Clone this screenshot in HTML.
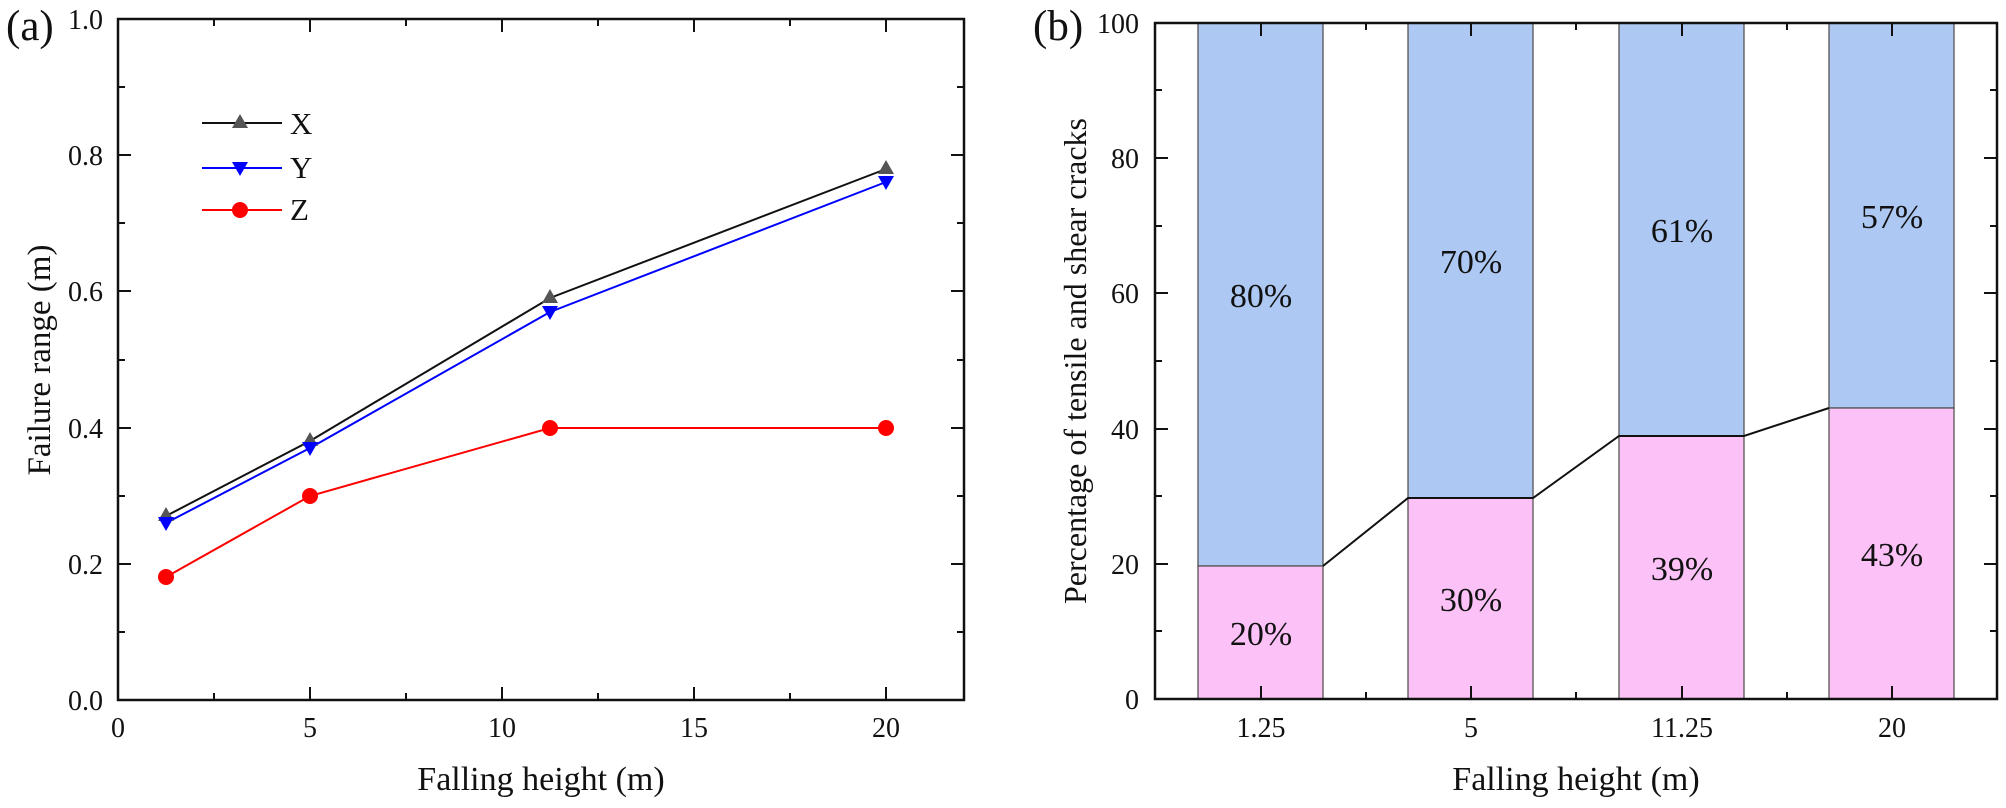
<!DOCTYPE html>
<html><head><meta charset="utf-8"><style>html,body{margin:0;padding:0;background:#fff}svg{display:block}text{font-family:"Liberation Serif",serif;fill:#111}</style></head><body>
<svg width="2006" height="808" viewBox="0 0 2006 808" xmlns="http://www.w3.org/2000/svg">
<!-- Panel a -->
<text x="6" y="40" font-size="43">(a)</text>
<g stroke="#111" stroke-width="2.5" fill="none">
<rect x="118" y="19" width="846" height="681"/>
</g>
<g stroke="#111" stroke-width="2">
<line x1="118" y1="700" x2="131" y2="700"/><line x1="118" y1="564" x2="131" y2="564"/><line x1="118" y1="428" x2="131" y2="428"/><line x1="118" y1="291" x2="131" y2="291"/><line x1="118" y1="155" x2="131" y2="155"/><line x1="118" y1="19" x2="131" y2="19"/>
<line x1="118" y1="632" x2="125" y2="632"/><line x1="118" y1="496" x2="125" y2="496"/><line x1="118" y1="360" x2="125" y2="360"/><line x1="118" y1="223" x2="125" y2="223"/><line x1="118" y1="87" x2="125" y2="87"/>
<line x1="964" y1="700" x2="951" y2="700"/><line x1="964" y1="564" x2="951" y2="564"/><line x1="964" y1="428" x2="951" y2="428"/><line x1="964" y1="291" x2="951" y2="291"/><line x1="964" y1="155" x2="951" y2="155"/>
<line x1="964" y1="632" x2="957" y2="632"/><line x1="964" y1="496" x2="957" y2="496"/><line x1="964" y1="360" x2="957" y2="360"/><line x1="964" y1="223" x2="957" y2="223"/><line x1="964" y1="87" x2="957" y2="87"/>
<line x1="310" y1="700" x2="310" y2="687"/><line x1="502" y1="700" x2="502" y2="687"/><line x1="694" y1="700" x2="694" y2="687"/><line x1="886" y1="700" x2="886" y2="687"/>
<line x1="214" y1="700" x2="214" y2="693"/><line x1="406" y1="700" x2="406" y2="693"/><line x1="598" y1="700" x2="598" y2="693"/><line x1="790" y1="700" x2="790" y2="693"/>
<line x1="310" y1="19" x2="310" y2="32"/><line x1="502" y1="19" x2="502" y2="32"/><line x1="694" y1="19" x2="694" y2="32"/><line x1="886" y1="19" x2="886" y2="32"/>
<line x1="214" y1="19" x2="214" y2="26"/><line x1="406" y1="19" x2="406" y2="26"/><line x1="598" y1="19" x2="598" y2="26"/><line x1="790" y1="19" x2="790" y2="26"/>
</g>
<g font-size="28" text-anchor="end">
<text x="103" y="710">0.0</text><text x="103" y="574">0.2</text><text x="103" y="438">0.4</text><text x="103" y="301">0.6</text><text x="103" y="165">0.8</text><text x="103" y="29">1.0</text>
</g>
<g font-size="28" text-anchor="middle">
<text x="118" y="737">0</text><text x="310" y="737">5</text><text x="502" y="737">10</text><text x="694" y="737">15</text><text x="886" y="737">20</text>
</g>
<text x="541" y="790" font-size="34" text-anchor="middle">Falling height (m)</text>
<text transform="translate(50,360) rotate(-90)" font-size="33" text-anchor="middle">Failure range (m)</text>
<polyline points="166,516 310,441 550,298 886,169" fill="none" stroke="#111" stroke-width="2"/>
<polyline points="166,523 310,448 550,312 886,182" fill="none" stroke="#00f" stroke-width="2"/>
<polyline points="166,577 310,496 550,428 886,428" fill="none" stroke="#f00" stroke-width="2"/>
<g fill="#555"><polygon points="166,507 174,521 158,521"/><polygon points="310,432 318,446 302,446"/><polygon points="550,289 558,303 542,303"/><polygon points="886,160 894,174 878,174"/></g>
<g fill="#00f"><polygon points="158,517 174,517 166,531"/><polygon points="302,442 318,442 310,456"/><polygon points="542,306 558,306 550,320"/><polygon points="878,176 894,176 886,190"/></g>
<g fill="#f00"><circle cx="166" cy="577" r="8"/><circle cx="310" cy="496" r="8"/><circle cx="550" cy="428" r="8"/><circle cx="886" cy="428" r="8"/></g>
<line x1="202" y1="123" x2="282" y2="123" stroke="#111" stroke-width="2"/><polygon points="240,114 248,128 232,128" fill="#555"/>
<line x1="202" y1="168" x2="282" y2="168" stroke="#00f" stroke-width="2"/><polygon points="232,162 248,162 240,176" fill="#00f"/>
<line x1="202" y1="210" x2="282" y2="210" stroke="#f00" stroke-width="2"/><circle cx="240" cy="210" r="8" fill="#f00"/>
<g font-size="31"><text x="290" y="134">X</text><text x="290" y="178">Y</text><text x="290" y="220">Z</text></g>

<!-- Panel b -->
<text x="1033" y="40" font-size="43">(b)</text>
<g stroke="#555" stroke-width="1.3">
<rect x="1198" y="23" width="125" height="543" fill="#adc8f2"/><rect x="1198" y="566" width="125" height="133" fill="#fcc2f7"/>
<rect x="1408" y="23" width="125" height="475" fill="#adc8f2"/><rect x="1408" y="498" width="125" height="201" fill="#fcc2f7"/>
<rect x="1619" y="23" width="125" height="413" fill="#adc8f2"/><rect x="1619" y="436" width="125" height="263" fill="#fcc2f7"/>
<rect x="1829" y="23" width="125" height="385" fill="#adc8f2"/><rect x="1829" y="408" width="125" height="291" fill="#fcc2f7"/>
</g>
<polyline points="1323,566 1408,498 1533,498 1619,436 1744,436 1829,408" fill="none" stroke="#111" stroke-width="2"/>
<rect x="1155" y="23" width="842" height="676" fill="none" stroke="#111" stroke-width="2.5"/>
<g stroke="#111" stroke-width="2">
<line x1="1155" y1="699" x2="1168" y2="699"/><line x1="1155" y1="564" x2="1168" y2="564"/><line x1="1155" y1="429" x2="1168" y2="429"/><line x1="1155" y1="293" x2="1168" y2="293"/><line x1="1155" y1="158" x2="1168" y2="158"/><line x1="1155" y1="23" x2="1168" y2="23"/>
<line x1="1155" y1="631" x2="1162" y2="631"/><line x1="1155" y1="496" x2="1162" y2="496"/><line x1="1155" y1="361" x2="1162" y2="361"/><line x1="1155" y1="226" x2="1162" y2="226"/><line x1="1155" y1="90" x2="1162" y2="90"/>
<line x1="1997" y1="564" x2="1984" y2="564"/><line x1="1997" y1="429" x2="1984" y2="429"/><line x1="1997" y1="293" x2="1984" y2="293"/><line x1="1997" y1="158" x2="1984" y2="158"/>
<line x1="1997" y1="631" x2="1990" y2="631"/><line x1="1997" y1="496" x2="1990" y2="496"/><line x1="1997" y1="361" x2="1990" y2="361"/><line x1="1997" y1="226" x2="1990" y2="226"/><line x1="1997" y1="90" x2="1990" y2="90"/>
<line x1="1261" y1="699" x2="1261" y2="686"/><line x1="1471" y1="699" x2="1471" y2="686"/><line x1="1682" y1="699" x2="1682" y2="686"/><line x1="1892" y1="699" x2="1892" y2="686"/>
<line x1="1366" y1="699" x2="1366" y2="692"/><line x1="1576" y1="699" x2="1576" y2="692"/><line x1="1787" y1="699" x2="1787" y2="692"/>
<line x1="1261" y1="23" x2="1261" y2="36"/><line x1="1471" y1="23" x2="1471" y2="36"/><line x1="1682" y1="23" x2="1682" y2="36"/><line x1="1892" y1="23" x2="1892" y2="36"/>
<line x1="1366" y1="23" x2="1366" y2="30"/><line x1="1576" y1="23" x2="1576" y2="30"/><line x1="1787" y1="23" x2="1787" y2="30"/>
</g>
<g font-size="28" text-anchor="end">
<text x="1139" y="709">0</text><text x="1139" y="574">20</text><text x="1139" y="439">40</text><text x="1139" y="303">60</text><text x="1139" y="168">80</text><text x="1139" y="33">100</text>
</g>
<g font-size="28" text-anchor="middle">
<text x="1261" y="737">1.25</text><text x="1471" y="737">5</text><text x="1682" y="737">11.25</text><text x="1892" y="737">20</text>
</g>
<text x="1576" y="790" font-size="34" text-anchor="middle">Falling height (m)</text>
<text transform="translate(1086,361) rotate(-90)" font-size="32" text-anchor="middle">Percentage of tensile and shear cracks</text>
<g font-size="34" text-anchor="middle">
<text x="1261" y="307">80%</text><text x="1261" y="645">20%</text>
<text x="1471" y="273">70%</text><text x="1471" y="611">30%</text>
<text x="1682" y="242">61%</text><text x="1682" y="580">39%</text>
<text x="1892" y="228">57%</text><text x="1892" y="566">43%</text>
</g>
</svg>
</body></html>
